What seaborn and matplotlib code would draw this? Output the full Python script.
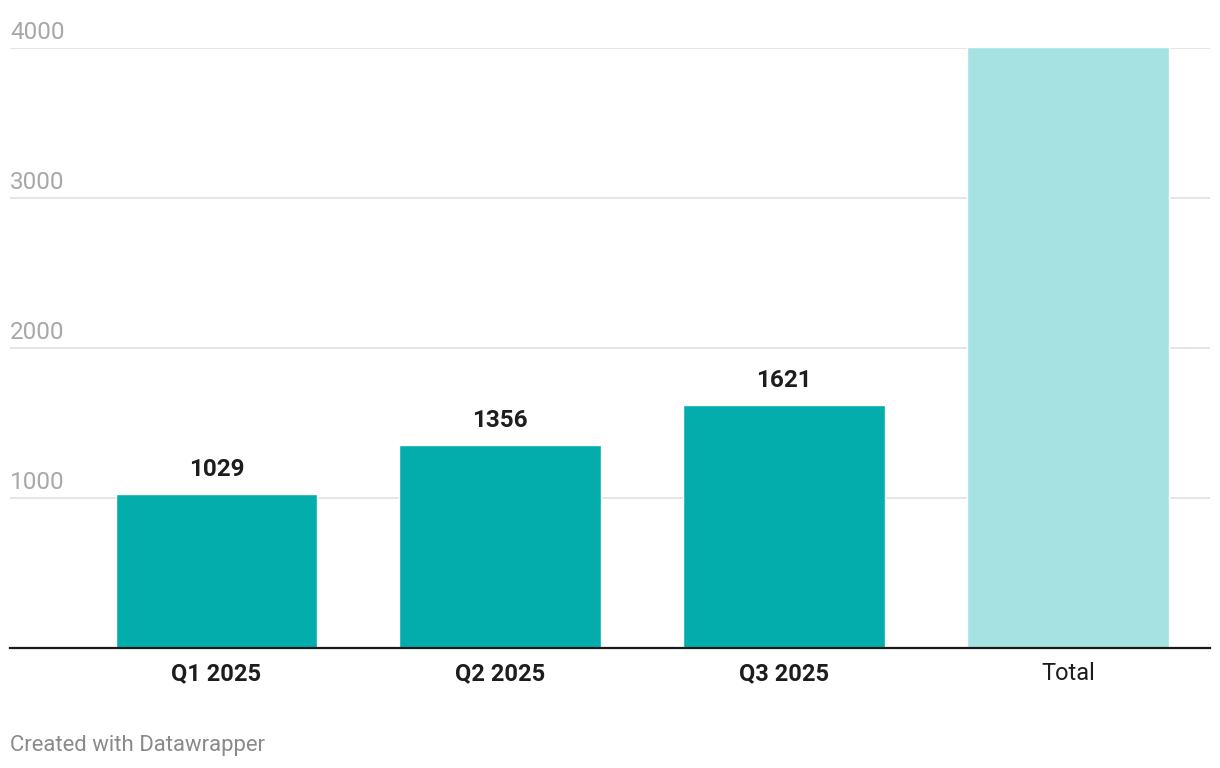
import matplotlib.pyplot as plt
import seaborn as sns
import pandas as pd

categories = ['Q1 2025', 'Q2 2025', 'Q3 2025', 'Total']
quarter_values = [1029, 1356, 1621]
total_value = sum(quarter_values)
values = quarter_values + [total_value]
y_ticks = [1000, 2000, 3000, 4000]

teal = '#03adab'
light_teal = '#a7e2e3'
colors = [teal, teal, teal, light_teal]

df = pd.DataFrame({'period': categories, 'value': values})

sns.set_style('white')
plt.rcParams['font.family'] = ['Roboto', 'DejaVu Sans']

fig = plt.figure(figsize=(12.2, 7.68), dpi=100)
ax = fig.add_axes([10 / 1220, 120 / 768, 1200 / 1220, 600 / 768])

sns.barplot(data=df, x='period', y='value', hue='period', palette=colors,
            legend=False, width=0.71, saturation=1, ax=ax)

ax.set_ylim(0, 4000)
ax.set_xlim(-0.727, 3.5)

# gridlines + labels sitting above them, datawrapper style
for t in y_ticks:
    ax.axhline(t, color='#e3e3e3', lw=1.3, zorder=0)
    ax.annotate(str(t), xy=(0, t), xycoords=ax.get_yaxis_transform(),
                xytext=(0, 3), textcoords='offset points',
                ha='left', va='bottom', fontsize=17.5, color='#a8a8a8')

ax.set_yticks([])
ax.set_xlabel('')
ax.set_ylabel('')
for s in ['top', 'right', 'left']:
    ax.spines[s].set_visible(False)
ax.spines['bottom'].set_color('#1a1a1a')
ax.spines['bottom'].set_linewidth(1.6)
ax.set_zorder(1)

ax.tick_params(axis='x', length=0, pad=10)
ax.set_xticks(range(len(categories)))
ax.set_xticklabels(categories, fontsize=17, color='#1d1d1d')
for lbl in ax.get_xticklabels()[:3]:
    lbl.set_fontweight('bold')

# value labels on the quarterly bars
for i, v in enumerate(quarter_values):
    ax.annotate(str(v), xy=(i, v), xytext=(0, 9), textcoords='offset points',
                ha='center', va='bottom', fontsize=17.5, fontweight='bold',
                color='#1d1d1d')

fig.text(10 / 1220, 1 - 745 / 768, 'Created with Datawrapper', ha='left',
         va='center', fontsize=15.9, color='#8a8a8a')

fig.savefig('out.png', dpi=100)
